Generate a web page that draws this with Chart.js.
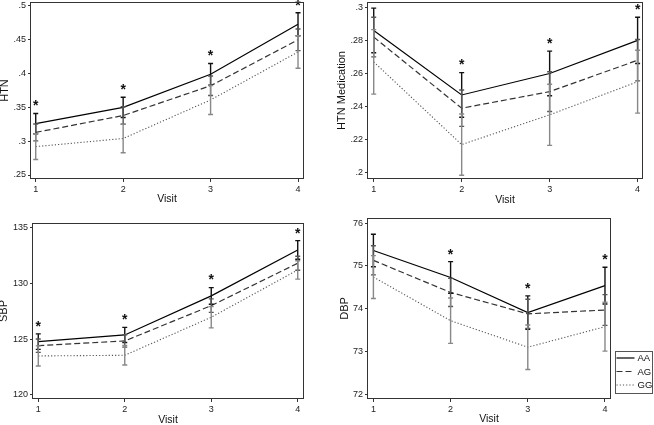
<!DOCTYPE html>
<html>
<head>
<meta charset="utf-8">
<script src="https://cdn.jsdelivr.net/npm/chart.js@4"></script>
<style>
html, body { margin: 0; padding: 0; background: #fff; width: 654px; height: 425px; overflow: hidden; position: relative; }
canvas { position: absolute; }
</style>
</head>
<body>
<canvas id="c1"></canvas>
<canvas id="c2"></canvas>
<canvas id="c3"></canvas>
<canvas id="c4"></canvas>
<script>
// visits and genotype groups
const visits = [1, 2, 3, 4];
const groups = ['AA', 'AG', 'GG'];

// HTN (proportion) - means and CI half widths
const htnAA = [0.326, 0.350, 0.399, 0.473];
const htnAG = [0.313, 0.338, 0.382, 0.450];
const htnGG = [0.292, 0.304, 0.361, 0.432];
const htnAAci = [0.015, 0.015, 0.016, 0.017];
const htnAGci = [0.0125, 0.013, 0.0145, 0.016];
const htnGGci = [0.019, 0.021, 0.0215, 0.024];
const htnStars = [1, 1, 1, 1];
const htnTicks = [0.25, 0.3, 0.35, 0.4, 0.45, 0.5];

// HTN medication
const medAA = [0.286, 0.247, 0.260, 0.280];
const medAG = [0.282, 0.239, 0.249, 0.268];
const medGG = [0.267, 0.217, 0.235, 0.255];
const medAAci = [0.0135, 0.0135, 0.0135, 0.014];
const medAGci = [0.012, 0.011, 0.012, 0.0125];
const medGGci = [0.0195, 0.0185, 0.0185, 0.019];
const medStars = [0, 1, 1, 1];
const medTicks = [0.2, 0.22, 0.24, 0.26, 0.28, 0.3];

// SBP
const sbpAA = [124.77, 125.37, 128.86, 132.97];
const sbpAG = [124.41, 124.83, 127.99, 131.78];
const sbpGG = [123.49, 123.55, 126.95, 131.18];
const sbpAAci = [0.69, 0.68, 0.74, 0.83];
const sbpAGci = [0.6, 0.55, 0.6, 0.63];
const sbpGGci = [0.9, 0.87, 0.95, 0.82];
const sbpStars = [1, 1, 1, 1];
const sbpTicks = [120, 125, 130, 135];

// DBP
const dbpAA = [75.36, 74.73, 73.91, 74.54];
const dbpAG = [75.13, 74.38, 73.88, 73.97];
const dbpGG = [74.74, 73.72, 73.10, 73.58];
const dbpAAci = [0.38, 0.37, 0.39, 0.43];
const dbpAGci = [0.34, 0.33, 0.34, 0.36];
const dbpGGci = [0.5, 0.53, 0.52, 0.57];
const dbpStars = [0, 1, 1, 1];
const dbpTicks = [72, 73, 74, 75, 76];

Chart.defaults.font.family = '"Liberation Sans", Arial, Helvetica, sans-serif';
Chart.defaults.color = '#222';

const lineColors = ['#000', '#333', '#555'];
const lineDash = [[], [6, 3], [1.2, 2]];
const barColors = ['#111', '#555', '#888'];

// error bars, stars, frame and legend
const panelExtras = {
  id: 'panelExtras',
  afterDatasetsDraw(chart, args, opts) {
    const ctx = chart.ctx;
    const xs = chart.scales.x;
    const ys = chart.scales.y;
    const a = chart.chartArea;
    ctx.save();
    ctx.setLineDash([]);
    ctx.lineWidth = 1.4;
    chart.data.datasets.forEach((ds, i) => {
      ctx.strokeStyle = barColors[i];
      ds.data.forEach((p, j) => {
        const e = opts.errs[i][j];
        const x = xs.getPixelForValue(p.x);
        const y1 = ys.getPixelForValue(p.y + e);
        const y2 = ys.getPixelForValue(p.y - e);
        ctx.beginPath();
        ctx.moveTo(x, y1); ctx.lineTo(x, y2);
        ctx.moveTo(x - 2.5, y1); ctx.lineTo(x + 2.5, y1);
        ctx.moveTo(x - 2.5, y2); ctx.lineTo(x + 2.5, y2);
        ctx.stroke();
      });
    });

    // asterisks above the highest bar
    ctx.fillStyle = '#111';
    ctx.font = 'bold 14px "Liberation Sans", Arial, sans-serif';
    ctx.textAlign = 'center';
    ctx.textBaseline = 'middle';
    opts.stars.forEach((s, j) => {
      if (!s) return;
      let top = Infinity;
      chart.data.datasets.forEach((ds, i) => {
        top = Math.min(top, ys.getPixelForValue(ds.data[j].y + opts.errs[i][j]));
      });
      ctx.fillText('*', xs.getPixelForValue(visits[j]), top - 7);
    });

    // frame
    ctx.strokeStyle = '#333';
    ctx.lineWidth = 1;
    ctx.strokeRect(Math.round(a.left) - 0.5, Math.round(a.top) + 0.5,
      Math.round(a.right - a.left) + 1, Math.round(a.bottom - a.top) - 1);

    if (opts.legend) {
      const lx = Math.round(a.right) + 5.5;
      const ly = 139.5;
      ctx.strokeStyle = '#555';
      ctx.strokeRect(lx, ly, 37, 42);
      ctx.font = '9.5px "Liberation Sans", Arial, sans-serif';
      ctx.textAlign = 'left';
      const rows = [146, 159.5, 173];
      chart.data.datasets.forEach((ds, i) => {
        ctx.strokeStyle = lineColors[i];
        ctx.setLineDash(lineDash[i]);
        ctx.lineWidth = 1.2;
        ctx.beginPath();
        ctx.moveTo(lx + 1, rows[i]);
        ctx.lineTo(lx + 19, rows[i]);
        ctx.stroke();
        ctx.setLineDash([]);
        ctx.fillStyle = '#111';
        ctx.fillText(ds.label, lx + 22, rows[i] + 0.5);
      });
    }
    ctx.restore();
  }
};

function makePanel(id, g, yTitle, series, errs, stars, ticks, yMin, yMax, legend) {
  const cv = document.getElementById(id);
  cv.width = g.w; cv.height = g.h;
  cv.style.left = g.left + 'px';
  cv.style.top = g.top + 'px';
  const datasets = series.map((s, i) => ({
    label: groups[i],
    data: s.map((v, j) => ({ x: visits[j], y: v })),
    borderColor: lineColors[i],
    borderDash: lineDash[i],
    borderWidth: i == 2 ? 1.1 : 1.2,
    pointRadius: 0,
    fill: false,
    tension: 0
  }));
  return new Chart(cv, {
    type: 'line',
    data: { datasets: datasets },
    options: {
      responsive: false,
      animation: false,
      layout: { padding: { top: g.padTop, right: g.padRight, left: 0, bottom: 0 } },
      plugins: {
        legend: { display: false },
        tooltip: { enabled: false },
        panelExtras: { errs: errs, stars: stars, legend: legend }
      },
      scales: {
        x: {
          type: 'linear',
          min: g.xMin, max: g.xMax,
          afterBuildTicks: s => { s.ticks = visits.map(v => ({ value: v })); },
          afterFit: s => { s.height = g.xH; s.paddingLeft = 0; s.paddingRight = 0; },
          grid: { drawOnChartArea: false, drawTicks: true, tickLength: 3, color: '#333' },
          border: { display: false },
          ticks: { font: { size: 9 }, padding: 2, maxRotation: 0 },
          title: { display: true, text: 'Visit', color: '#111', font: { size: 10.5 }, padding: { top: 0, bottom: g.xtPad } }
        },
        y: {
          min: yMin, max: yMax,
          afterBuildTicks: s => { s.ticks = ticks.map(v => ({ value: v })); },
          afterFit: s => { s.width = g.yW; s.paddingTop = 0; s.paddingBottom = 0; },
          grid: { drawOnChartArea: false, drawTicks: true, tickLength: 3, color: '#333' },
          border: { display: false },
          ticks: { font: { size: 9 }, padding: 2, callback: v => String(v).replace(/^0\./, '.') },
          title: { display: true, text: yTitle, color: '#111', font: { size: 11 }, padding: { top: g.ytPad, bottom: 0 } }
        }
      }
    },
    plugins: [panelExtras]
  });
}

makePanel('c1',
  { left: -4, top: 0, w: 329, h: 212, yW: 35, xH: 33, padTop: 2, padRight: 22, xMin: 0.946, xMax: 4.057, xtPad: 7, ytPad: 2 },
  'HTN', [htnAA, htnAG, htnGG], [htnAAci, htnAGci, htnGGci], htnStars, htnTicks, 0.2441, 0.5059, false);

makePanel('c2',
  { left: 330, top: 0, w: 324, h: 212, yW: 38, xH: 33, padTop: 2, padRight: 12, xMin: 0.935, xMax: 4.05, xtPad: 6, ytPad: 5.4 },
  'HTN Medication', [medAA, medAG, medGG], [medAAci, medAGci, medGGci], medStars, medTicks, 0.1962, 0.3032, false);

makePanel('c3',
  { left: -4, top: 212, w: 329, h: 216, yW: 37, xH: 29, padTop: 11, padRight: 22, xMin: 0.939, xMax: 4.061, xtPad: 2, ytPad: 1.5 },
  'SBP', [sbpAA, sbpAG, sbpGG], [sbpAAci, sbpAGci, sbpGGci], sbpStars, sbpTicks, 119.64, 135.38, false);

makePanel('c4',
  { left: 330, top: 212, w: 324, h: 216, yW: 38, xH: 29, padTop: 6, padRight: 44, xMin: 0.93, xMax: 4.065, xtPad: 3, ytPad: 8.4 },
  'DBP', [dbpAA, dbpAG, dbpGG], [dbpAAci, dbpAGci, dbpGGci], dbpStars, dbpTicks, 71.89, 76.12, true);
</script>
</body>
</html>
